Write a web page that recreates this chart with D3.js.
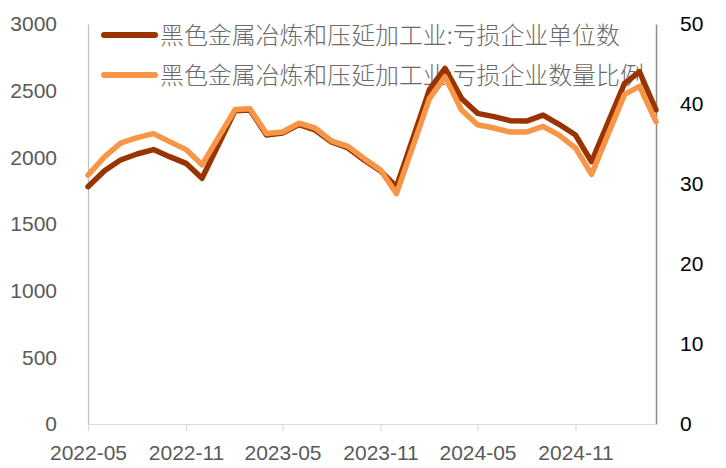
<!DOCTYPE html>
<html>
<head>
<meta charset="utf-8">
<script src="https://cdn.jsdelivr.net/npm/d3@7"></script>
<style>
  body { margin: 0; background: #fff; }
  svg { display: block; }
</style>
</head>
<body>
<svg width="726" height="468"></svg>
<script>
// monthly data, January is not published (merged with February)
const months = [
  "2022-05", "2022-06", "2022-07", "2022-08", "2022-09", "2022-10", "2022-11", "2022-12",
  "2023-02", "2023-03", "2023-04", "2023-05", "2023-06", "2023-07", "2023-08", "2023-09", "2023-10", "2023-11", "2023-12",
  "2024-02", "2024-03", "2024-04", "2024-05", "2024-06", "2024-07", "2024-08", "2024-09", "2024-10", "2024-11", "2024-12",
  "2025-02", "2025-03", "2025-04"
];
// 亏损企业单位数 (left axis)
const lossCount = [
  1780, 1900, 1980, 2025, 2058, 2005, 1955, 1843,
  2350, 2355, 2168, 2182, 2245, 2205, 2115, 2070, 1980, 1898, 1780,
  2510, 2667, 2442, 2330, 2305, 2275, 2272, 2317, 2248, 2167, 1967,
  2555, 2642, 2355
];
// 亏损企业数量比例 % (right axis)
const lossRatio = [
  31.1, 33.4, 35.1, 35.8, 36.3, 35.3, 34.3, 32.4,
  39.3, 39.4, 36.3, 36.5, 37.6, 37.0, 35.4, 34.7, 33.2, 31.75, 28.8,
  40.7, 43.4, 39.25, 37.4, 37.0, 36.5, 36.5, 37.2, 36.1, 34.5, 31.2,
  41.2, 42.2, 37.8
];
const leftTicks = [0, 500, 1000, 1500, 2000, 2500, 3000];
const rightTicks = [0, 10, 20, 30, 40, 50];
const xTickLabels = ["2022-05", "2022-11", "2023-05", "2023-11", "2024-05", "2024-11"];
const seriesNames = ["黑色金属冶炼和压延加工业:亏损企业单位数", "黑色金属冶炼和压延加工业:亏损企业数量比例"];
const colors = ["#993300", "#F79646"];

const parse = d3.timeParse("%Y-%m");
const dates = months.map(parse);

const svg = d3.select("svg");
const mLeft = 88, mRight = 656, mTop = 24, mBottom = 424;
const numFont = "'Liberation Sans', Arial, sans-serif";

const x = d3.scaleTime().domain([parse("2022-05"), parse("2025-04")]).range([mLeft, mRight]);
const yL = d3.scaleLinear().domain([0, 3000]).range([mBottom, mTop]);
const yR = d3.scaleLinear().domain([0, 50]).range([mBottom, mTop]);

// left axis
const gl = svg.append("g").attr("transform", `translate(${mLeft},0)`)
  .call(d3.axisLeft(yL).tickValues(leftTicks).tickFormat(d3.format("d")).tickSize(0).tickPadding(31));
gl.select(".domain").attr("stroke", "#bfbfbf").attr("stroke-width", 1.2);
gl.selectAll("text").attr("font-family", numFont).attr("font-size", 21).attr("fill", "#595959");

// right axis
const gr = svg.append("g").attr("transform", `translate(${mRight},0)`)
  .call(d3.axisRight(yR).tickValues(rightTicks).tickFormat(d3.format("d")).tickSize(0).tickPadding(24));
gr.select(".domain").attr("stroke", "#8c8c8c").attr("stroke-width", 1.5);
gr.selectAll("text").attr("font-family", numFont).attr("font-size", 21).attr("fill", "#000");

// bottom axis
const gx = svg.append("g").attr("transform", `translate(0,${mBottom})`)
  .call(d3.axisBottom(x).tickValues(xTickLabels.map(parse)).tickFormat(d3.timeFormat("%Y-%m"))
    .tickSize(7).tickSizeOuter(0).tickPadding(14));
gx.select(".domain").attr("stroke", "#d9d9d9").attr("stroke-width", 1.2);
gx.selectAll(".tick line").attr("stroke", "#d9d9d9").attr("stroke-width", 1.2);
gx.selectAll("text").attr("font-family", numFont).attr("font-size", 21).attr("fill", "#595959");

// legend (lines are drawn above it)
const legend = svg.append("g");
seriesNames.forEach((name, i) => {
  const ly = 35 + i * 40;
  legend.append("line")
    .attr("x1", 104).attr("x2", 155).attr("y1", ly).attr("y2", ly)
    .attr("stroke", colors[i]).attr("stroke-width", 6).attr("stroke-linecap", "round");
  legend.append("text")
    .attr("x", 160).attr("y", ly).attr("dy", "0.36em")
    .attr("font-family", "'Noto Sans CJK SC', sans-serif").attr("font-size", 23.9)
    .attr("font-weight", 300)
    .attr("fill", "#6b6b6b")
    .text(name);
});

const lineL = d3.line().x((d, i) => x(dates[i])).y(d => yL(d));
const lineR = d3.line().x((d, i) => x(dates[i])).y(d => yR(d));

svg.append("path").datum(lossCount)
  .attr("d", lineL).attr("fill", "none")
  .attr("stroke", colors[0]).attr("stroke-width", 5.5)
  .attr("stroke-linejoin", "round").attr("stroke-linecap", "round");

svg.append("path").datum(lossRatio)
  .attr("d", lineR).attr("fill", "none")
  .attr("stroke", colors[1]).attr("stroke-width", 5.5)
  .attr("stroke-linejoin", "round").attr("stroke-linecap", "round");
</script>
</body>
</html>
